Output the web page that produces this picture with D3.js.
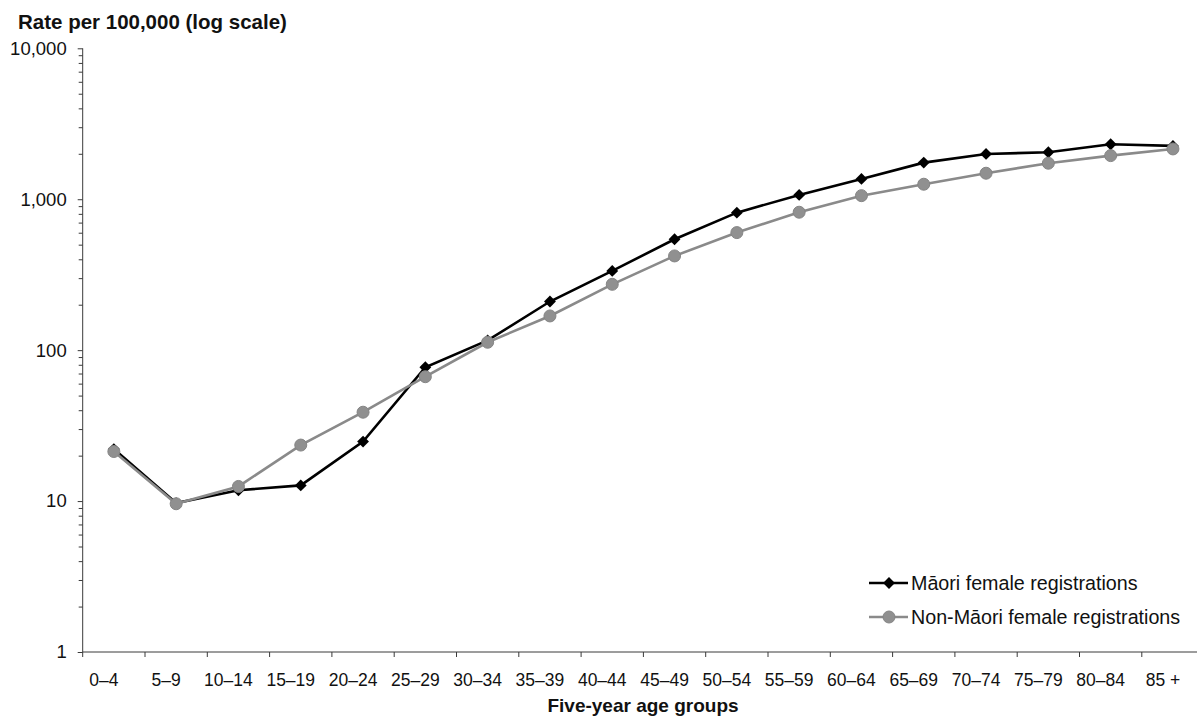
<!DOCTYPE html>
<html>
<head>
<meta charset="utf-8">
<script src="https://cdn.jsdelivr.net/npm/d3@7"></script>
<style>
  html, body { margin: 0; padding: 0; background: #fff; }
  svg { display: block; font-family: "Liberation Sans", Arial, sans-serif; }
</style>
</head>
<body>
<svg id="chart" width="1197" height="720"></svg>
<script>
// Age groups (x categories)
const ageGroups = ["0–4","5–9","10–14","15–19","20–24","25–29","30–34","35–39","40–44",
  "45–49","50–54","55–59","60–64","65–69","70–74","75–79","80–84","85 +"];

// Registration rates per 100,000
const maoriFemale = [22.1, 9.7, 11.8, 12.7, 24.8, 77, 116, 210, 335, 543, 815, 1068,
  1363, 1748, 1995, 2048, 2314, 2256];
const nonMaoriFemale = [21.3, 9.6, 12.5, 23.5, 38.8, 66.7, 112.8, 168.5, 273, 421, 601, 820,
  1056, 1257, 1487, 1732, 1945, 2154];

// Y axis major tick labels
const yTickValues = [1, 10, 100, 1000, 10000];
const yTickLabels = ["1", "10", "100", "1,000", "10,000"];

const seriesNames = ["Māori female registrations", "Non-Māori female registrations"];

const svg = d3.select("#chart");
const W = 1197, H = 720;
const mLeft = 82.7, mRight = 1204.1, mTop = 48.3, mBottom = 652;

const x = d3.scaleBand().domain(ageGroups).range([mLeft, mRight]).padding(0);
const y = d3.scaleLog().domain([1, 10000]).range([mBottom, mTop]);

const axisColor = "#3a3a3a";
const textColor = "#111";

// Minor log ticks (2..9 of each decade)
const minorTicks = [];
for (let d = 1; d < 10000; d *= 10) {
  for (let k = 2; k <= 9; k++) minorTicks.push(d * k);
}

const yAxisMinor = d3.axisLeft(y).tickValues(minorTicks).tickSize(4).tickFormat("");
const gMinor = svg.append("g").attr("transform", `translate(${mLeft},0)`).call(yAxisMinor);
gMinor.select(".domain").remove();
gMinor.selectAll("line").attr("stroke", axisColor);

const yAxis = d3.axisLeft(y).tickValues(yTickValues).tickSize(5).tickPadding(11)
  .tickFormat((d, i) => yTickLabels[i]);
const gy = svg.append("g").attr("transform", `translate(${mLeft},0)`).call(yAxis);
gy.select(".domain").attr("stroke", axisColor).attr("d", `M0,${mBottom}V${mTop}`);
gy.selectAll("line").attr("stroke", axisColor);
gy.selectAll("text").attr("font-size", 18.5).attr("fill", textColor)
  .attr("font-family", "Liberation Sans, Arial, sans-serif");

// X axis: ticks at category boundaries
const boundaries = ageGroups.map(g => x(g)).concat([mRight]);
const gx = svg.append("g").attr("transform", `translate(0,${mBottom})`);
gx.append("line").attr("x1", mLeft).attr("x2", W).attr("y1", 0).attr("y2", 0)
  .attr("stroke", axisColor);
gx.selectAll("line.tick").data(boundaries).join("line").attr("class", "tick")
  .attr("x1", d => d).attr("x2", d => d).attr("y1", 0).attr("y2", 5)
  .attr("stroke", axisColor);
gx.selectAll("text").data(ageGroups).join("text")
  .attr("x", d => x(d) + x.bandwidth() / 2 - 10)
  .attr("y", 34)
  .attr("text-anchor", "middle")
  .attr("font-size", 17.5).attr("fill", textColor)
  .text(d => d);

// Axis titles
svg.append("text").attr("x", 18).attr("y", 29)
  .attr("font-size", 20.5).attr("font-weight", "bold").attr("fill", textColor)
  .text("Rate per 100,000 (log scale)");
svg.append("text").attr("x", 643).attr("y", 712).attr("text-anchor", "middle")
  .attr("font-size", 19).attr("font-weight", "bold").attr("fill", textColor)
  .text("Five-year age groups");

const cx = g => x(g) + x.bandwidth() / 2;
const line = d3.line().x((d, i) => cx(ageGroups[i])).y(d => y(d));

const blackCol = "#000";
const grayCol = "#8a8a8a";
const diamondPath = d3.symbol().type(d3.symbolSquare).size(70);

// Māori series
svg.append("path").datum(maoriFemale).attr("d", line)
  .attr("fill", "none").attr("stroke", blackCol).attr("stroke-width", 2.6);
svg.append("g").selectAll("path").data(maoriFemale).join("path")
  .attr("d", diamondPath)
  .attr("transform", (d, i) => `translate(${cx(ageGroups[i])},${y(d)}) rotate(45)`)
  .attr("fill", blackCol);

// Non-Māori series
svg.append("path").datum(nonMaoriFemale).attr("d", line)
  .attr("fill", "none").attr("stroke", grayCol).attr("stroke-width", 2.6);
svg.append("g").selectAll("circle").data(nonMaoriFemale).join("circle")
  .attr("cx", (d, i) => cx(ageGroups[i])).attr("cy", d => y(d)).attr("r", 6)
  .attr("fill", "#909090").attr("stroke", "#858585").attr("stroke-width", 1);

// Legend
const legend = svg.append("g");
const legendRows = [
  { name: seriesNames[0], color: blackCol, y: 583, marker: "diamond" },
  { name: seriesNames[1], color: grayCol, y: 617, marker: "circle" }
];
legendRows.forEach(r => {
  legend.append("line").attr("x1", 869).attr("x2", 908).attr("y1", r.y).attr("y2", r.y)
    .attr("stroke", r.color).attr("stroke-width", 2.6);
  if (r.marker === "diamond") {
    legend.append("path").attr("d", diamondPath)
      .attr("transform", `translate(889,${r.y}) rotate(45)`).attr("fill", r.color);
  } else {
    legend.append("circle").attr("cx", 889).attr("cy", r.y).attr("r", 6)
      .attr("fill", "#909090").attr("stroke", "#858585");
  }
  legend.append("text").attr("x", 911).attr("y", r.y + 7)
    .attr("font-size", 19.7).attr("fill", textColor).text(r.name);
});
</script>
</body>
</html>
